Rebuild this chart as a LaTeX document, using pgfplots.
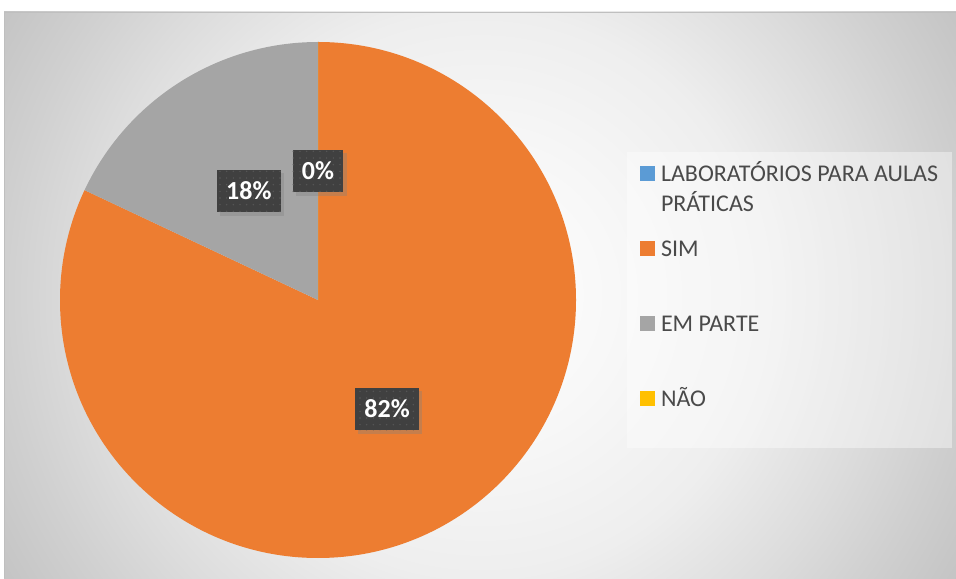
\documentclass[border=0pt]{standalone}
\usepackage{pgfplots}
\pgfplotsset{compat=1.18}
\usepackage{pgfplotstable}
\usepackage{fontspec}
\setmainfont{Carlito}
\usetikzlibrary{shadows,patterns.meta}

\definecolor{cLab}{HTML}{5B9BD5}
\definecolor{cSim}{HTML}{ED7D31}
\definecolor{cParte}{HTML}{A5A5A5}
\definecolor{cNao}{HTML}{FFC000}
\definecolor{legtext}{HTML}{4A4A4A}
\definecolor{lblbox}{HTML}{404040}
\definecolor{lbldot}{HTML}{585858}
\definecolor{bgA}{HTML}{F7F7F7}
\definecolor{bgB}{HTML}{EEEEEE}
\definecolor{bgC}{HTML}{DCDCDC}
\definecolor{bgD}{HTML}{D0D0D0}
\definecolor{bgE}{HTML}{C4C4C4}
% the central 50bp square of a shading is fitted to the path, so 25bp = edge of the square
\pgfdeclareradialshading{bgshade}{\pgfpoint{0bp}{0bp}}{color(0bp)=(white); color(6.7bp)=(bgA); color(12.6bp)=(bgB); color(17.9bp)=(bgC); color(21.2bp)=(bgD); color(24.8bp)=(bgE); color(50bp)=(bgE)}

\pgfplotsset{sq/.style={legend image code/.code={\fill[##1] (0pt,0.4pt) rectangle (11.25pt,11.65pt);}}}

% share of answers, in percent
\pgfplotstableread{
share col
0  cLab
82 cSim
18 cParte
0  cNao
}\piedata

\begin{document}
\begin{tikzpicture}
% 1 px of the reference = 0.75pt
\useasboundingbox (0,0) rectangle (717pt,433.5pt);
\begin{scope}
    \clip (3pt,0) rectangle (717pt,424.5pt);
    \shade[shading=bgshade] (-60pt,-207.75pt) rectangle (780pt,632.25pt);
\end{scope}
\draw[black!25, line width=0.6pt] (3pt,0) -- (3pt,424.5pt) -- (717pt,424.5pt);

\begin{axis}[
    x=0.75pt, y=0.75pt,
    xmin=0, xmax=956, ymin=0, ymax=578,
    hide axis, clip=false,
    legend style={
        at={(axis cs:640,411.8)}, anchor=north west,
        draw=none, fill=none, inner sep=0pt,
        column sep=4.3pt, row sep=0pt,
        cells={anchor=base west},
        nodes={inner sep=0pt, text height=11.65pt, text depth=44.6pt,
               font=\fontsize{18}{22.5}\selectfont, text=legtext},
    },
]
\fill[white, opacity=0.4] (axis cs:627,130) rectangle (axis cs:952,426);
\coordinate (C) at (axis cs:318,278);

\addlegendimage{sq, fill=cLab, draw=none}
\addlegendentry{\parbox[t]{212pt}{LABORATÓRIOS PARA AULAS\\PRÁTICAS}}
\addlegendimage{sq, fill=cSim, draw=none}
\addlegendentry{SIM}
\addlegendimage{sq, fill=cParte, draw=none}
\addlegendentry{EM PARTE}
\addlegendimage{sq, fill=cNao, draw=none}
\addlegendentry{NÃO}
\end{axis}

% slices, clockwise from 12 o'clock; radius 258 axis units
\def\R{193.5pt}
\def\acc{0}
\foreach \i in {0,...,3}{
    \pgfplotstablegetelem{\i}{share}\of\piedata \let\pv\pgfplotsretval
    \pgfplotstablegetelem{\i}{col}\of\piedata \let\pc\pgfplotsretval
    \pgfmathsetmacro\s{90-3.6*\acc}
    \pgfmathsetmacro\e{90-3.6*(\acc+\pv)}
    \pgfmathsetmacro\m{(\s+\e)/2}
    \fill[\pc] (C) -- ++(\s:\R) arc[start angle=\s, end angle=\e, radius=\R] -- cycle;
    \path (C) ++(\m:96.75pt) coordinate (L\i);
    \pgfmathsetmacro\acc{\acc+\pv}\xdef\acc{\acc}
}

% data labels
\foreach \i in {0,1,2}{
    \pgfplotstablegetelem{\i}{share}\of\piedata
    \node[fill=lblbox, text=white, font=\fontsize{19.5}{22}\selectfont\bfseries,
          inner xsep=7pt, inner ysep=0pt, minimum height=32pt,
          drop shadow={shadow xshift=2.5pt, shadow yshift=-2.5pt, opacity=0.35},
          postaction={pattern={Dots[radius=0.6pt, distance=5pt]}, pattern color=lbldot}]
        at (L\i) {\pgfplotsretval\%};
}
\end{tikzpicture}
\end{document}
